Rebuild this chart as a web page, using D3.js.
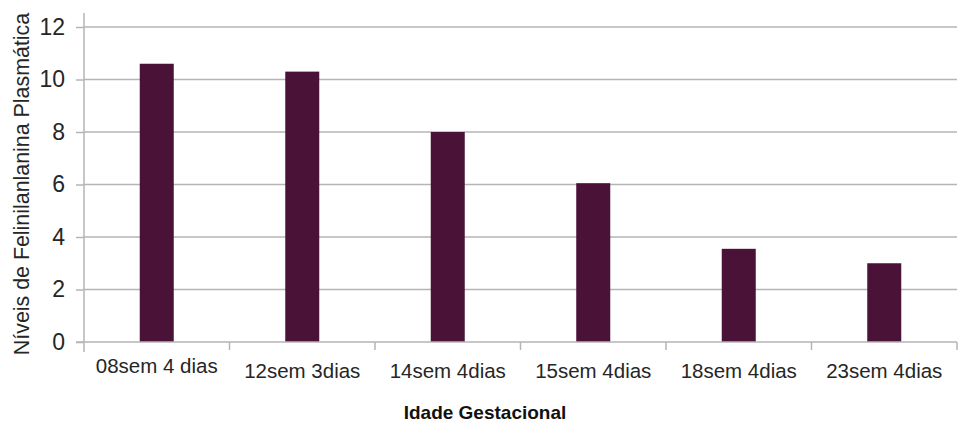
<!DOCTYPE html>
<html>
<head>
<meta charset="utf-8">
<script src="https://cdn.jsdelivr.net/npm/d3@7"></script>
<style>
  html, body { margin: 0; padding: 0; background: #fff; }
  svg { display: block; font-family: "Liberation Sans", Arial, sans-serif; }
</style>
</head>
<body>
<svg id="chart" width="970" height="424"></svg>
<script>
// Gestational age groups and plasma phenylalanine levels
const categories = ["08sem 4 dias", "12sem 3dias", "14sem 4dias", "15sem 4dias", "18sem 4dias", "23sem 4dias"];
const values = [10.6, 10.3, 8.0, 6.05, 3.55, 3.0];
const yTicks = [0, 2, 4, 6, 8, 10, 12];
const xTitle = "Idade Gestacional";
const yTitle = "Níveis de Felinilanlanina Plasmática";

(function () {
  const svg = d3.select("#chart");
  const plotLeft = 84, plotRight = 957, plotTop = 27, plotBottom = 342;
  const gridColor = "#b5b5b8";
  const textColor = "#262626";

  const x = d3.scaleBand().domain(categories).range([plotLeft, plotRight]).paddingInner(0).paddingOuter(0);
  const y = d3.scaleLinear().domain([0, 12]).range([plotBottom, plotTop]);
  const barW = 34;

  // horizontal gridlines
  svg.append("g").selectAll("line").data(yTicks.filter(d => d > 0)).join("line")
    .attr("x1", plotLeft).attr("x2", plotRight)
    .attr("y1", d => y(d)).attr("y2", d => y(d))
    .attr("stroke", gridColor).attr("stroke-width", 1.5);

  // bars
  svg.append("g").selectAll("rect").data(values).join("rect")
    .attr("x", (d, i) => x(categories[i]) + x.bandwidth() / 2 - barW / 2)
    .attr("width", barW)
    .attr("y", d => y(d))
    .attr("height", d => y(0) - y(d))
    .attr("fill", "#4a1237");

  // y axis
  const yAxis = svg.append("g").attr("transform", `translate(${plotLeft},0)`)
    .call(d3.axisLeft(y).tickValues(yTicks).tickSize(8).tickPadding(11).tickFormat(d3.format("d")));
  yAxis.select(".domain").remove();
  yAxis.selectAll(".tick line").attr("stroke", gridColor).attr("stroke-width", 1.5);
  yAxis.selectAll(".tick text").attr("fill", textColor).style("font-size", "23px")
    .style("font-family", "'Liberation Sans', Arial, sans-serif");
  svg.append("line").attr("x1", plotLeft).attr("x2", plotLeft).attr("y1", 13).attr("y2", plotBottom + 10)
    .attr("stroke", gridColor).attr("stroke-width", 1.5);

  // x axis
  svg.append("line").attr("x1", plotLeft - 8).attr("x2", plotRight).attr("y1", plotBottom).attr("y2", plotBottom)
    .attr("stroke", gridColor).attr("stroke-width", 1.5);
  const bounds = categories.map(c => x(c)).concat([x(categories[categories.length - 1]) + x.bandwidth()]);
  svg.append("g").selectAll("line").data(bounds.slice(1)).join("line")
    .attr("x1", d => d).attr("x2", d => d)
    .attr("y1", plotBottom).attr("y2", plotBottom + 8)
    .attr("stroke", gridColor).attr("stroke-width", 1.5);

  svg.append("g").selectAll("text").data(categories).join("text")
    .attr("x", d => x(d) + x.bandwidth() / 2)
    .attr("y", (d, i) => i === 0 ? 373 : 378)
    .attr("text-anchor", "middle")
    .attr("fill", textColor)
    .style("font-size", "20.5px")
    .text(d => d);

  // axis titles
  svg.append("text").attr("x", 485).attr("y", 419).attr("text-anchor", "middle")
    .attr("fill", "#111").style("font-size", "19px").style("font-weight", "bold")
    .text(xTitle);
  svg.append("text").attr("transform", "translate(28.5,184) rotate(-90)")
    .attr("text-anchor", "middle").attr("fill", textColor).style("font-size", "21.4px")
    .text(yTitle);
})();
</script>
</body>
</html>
